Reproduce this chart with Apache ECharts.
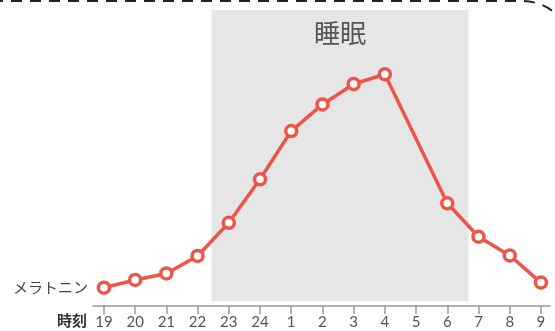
<!DOCTYPE html>
<html>
<head>
<meta charset="utf-8">
<script src="https://cdn.jsdelivr.net/npm/echarts@6/dist/echarts.min.js"></script>
<style>
  html, body { margin: 0; padding: 0; background: #fff; }
  #chart { width: 555px; height: 331px; }
</style>
</head>
<body>
<div id="chart"></div>
<script>
// Hours (x categories)
const hours = ['19', '20', '21', '22', '23', '24', '1', '2', '3', '4', '5', '6', '7', '8', '9'];
// Relative melatonin level (null = no marker at that hour)
const melatonin = [6.2, 8.8, 11.0, 16.9, 28.1, 42.8, 59.1, 68.1, 75.0, 78.3, null, 34.7, 23.4, 17.1, 7.9];
// Sleep period, in hour-index units on the x axis
const sleepStart = 3.45;
const sleepEnd = 11.68;
const sleepLabel = '睡眠';
const yLabel = 'メラトニン';
const xLabel = '時刻';

const tickIdx = hours.map((_, i) => i);
const seriesData = melatonin.map((v, i) => [i, v]);

const chart = echarts.init(document.getElementById('chart'), null, { renderer: 'canvas' });
const cjk = '"Noto Sans CJK JP", sans-serif';
const red = '#ec5548';

chart.setOption({
  animation: false,
  grid: { left: 93, right: 5, top: 10, bottom: 25, containLabel: false },
  xAxis: {
    type: 'value',
    min: -0.35,
    max: 14.29,
    splitLine: { show: false },
    axisLine: { show: true, lineStyle: { color: '#999', width: 1.5 } },
    axisTick: { show: true, customValues: tickIdx, length: 8, lineStyle: { color: '#999', width: 1.5 } },
    axisLabel: {
      show: true,
      customValues: tickIdx,
      formatter: v => hours[Math.round(v)],
      margin: 9,
      color: '#555',
      fontSize: 15,
      fontFamily: 'Lato, sans-serif'
    }
  },
  yAxis: {
    type: 'value',
    min: 0,
    max: 100,
    splitLine: { show: false },
    axisLine: { show: false },
    axisTick: { show: false },
    axisLabel: {
      show: true,
      customValues: [melatonin[0]],
      formatter: () => yLabel,
      margin: 5,
      color: '#444',
      fontSize: 15,
      fontFamily: cjk
    }
  },
  graphic: [
    {
      type: 'rect',
      shape: { x: -60, y: 1, width: 634, height: 400, r: 52 },
      style: { fill: 'none', stroke: '#222', lineWidth: 2, lineDash: [11, 8] },
      z: 10
    },
    {
      type: 'text',
      left: 57,
      top: 313,
      style: { text: xLabel, fill: '#333', fontSize: 15, fontWeight: 'bold', fontFamily: cjk }
    }
  ],
  series: [
    {
      type: 'line',
      data: seriesData,
      connectNulls: true,
      symbol: 'circle',
      symbolSize: 11,
      lineStyle: { color: red, width: 3.5 },
      itemStyle: { color: '#fff', borderColor: red, borderWidth: 3.5 },
      z: 3,
      markArea: {
        silent: true,
        itemStyle: { color: '#e6e6e6' },
        label: {
          show: true,
          position: 'insideTop',
          distance: 10,
          color: '#555',
          fontSize: 26,
          fontFamily: cjk
        },
        data: [[
          { name: sleepLabel, xAxis: sleepStart, yAxis: 100 },
          { xAxis: sleepEnd, yAxis: 1.7 }
        ]]
      }
    }
  ]
});
</script>
</body>
</html>
